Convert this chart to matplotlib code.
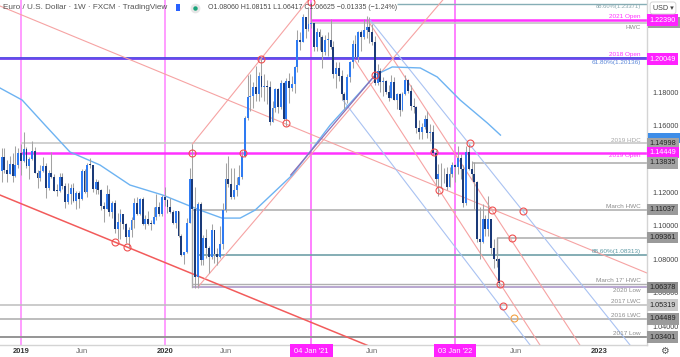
import matplotlib
matplotlib.use("Agg")
import matplotlib.pyplot as plt
import matplotlib.dates as mdates
import matplotlib.transforms as mtransforms
from matplotlib.lines import Line2D
from matplotlib.patches import Rectangle
import numpy as np
import pandas as pd

plt.rcParams['font.family'] = ['Liberation Sans', 'DejaVu Sans']

# Weekly EUR/USD bars, week of 2018-11-12 up to the week of 2022-04-25
first_open = 1.1335
last_open = 1.0806
closes = [
    1.1416, 1.1338, 1.1315, 1.1377, 1.1305, 1.1370, 1.1443, 1.1395,
    1.1468, 1.1365, 1.1406, 1.1456, 1.1324, 1.1295, 1.1334, 1.1365, 1.1234, 1.1325,
    1.1298, 1.1216, 1.1215, 1.1300, 1.1246, 1.1150, 1.1200, 1.1235, 1.1157, 1.1205,
    1.1169, 1.1333, 1.1210, 1.1371, 1.1370, 1.1225, 1.1270, 1.1220, 1.1127, 1.1108,
    1.1200, 1.1090, 1.1144, 1.0990, 1.1030, 1.1075, 1.1017, 1.0940, 1.0980, 1.1040,
    1.1143, 1.1080, 1.1165, 1.1018, 1.1050, 1.1020, 1.1017, 1.1060, 1.1120, 1.1080,
    1.1177, 1.1160,
    1.1120, 1.1090, 1.1025, 1.1093, 1.0945, 1.0830, 1.0848, 1.1025, 1.1285, 1.1105,
    1.0700, 1.1140, 1.0800, 1.0935, 1.0875, 1.0820, 1.0980, 1.0840, 1.0820, 1.0900,
    1.1100, 1.1290, 1.1255, 1.1177, 1.1220, 1.1250, 1.1300, 1.1427, 1.1655, 1.1780,
    1.1785, 1.1840, 1.1795, 1.1905, 1.1840, 1.1845, 1.1840, 1.1630, 1.1715, 1.1825,
    1.1717, 1.1860, 1.1645, 1.1875, 1.1835, 1.1857, 1.1960, 1.2120, 1.2110, 1.2255,
    1.2185, 1.2215,
    1.2220, 1.2080, 1.2170, 1.2135, 1.2045, 1.2120, 1.2120, 1.2075, 1.1915, 1.1950,
    1.1905, 1.1795, 1.1760, 1.1900, 1.1985, 1.2095, 1.2020, 1.2165, 1.2140, 1.2180,
    1.2195, 1.2165, 1.2105, 1.1860, 1.1935, 1.1865, 1.1875, 1.1810, 1.1770, 1.1870,
    1.1760, 1.1795, 1.1700, 1.1795, 1.1880, 1.1815, 1.1727, 1.1720, 1.1595, 1.1570,
    1.1600, 1.1645, 1.1560, 1.1568, 1.1445, 1.1290, 1.1320, 1.1315, 1.1315, 1.1240,
    1.1320, 1.1370,
    1.1360, 1.1415, 1.1345, 1.1145, 1.1450, 1.1348, 1.1320, 1.1270, 1.0930, 1.0910,
    1.1050, 1.0985, 1.1045, 1.0875, 1.0810, 1.0795, 1.0663,
]
highs = [
    1.1472, 1.1472, 1.1402, 1.1424, 1.1442, 1.1487, 1.1470, 1.1497,
    1.1570, 1.1480, 1.1420, 1.1514, 1.1480, 1.1342, 1.1370, 1.1420, 1.1380, 1.1340,
    1.1448, 1.1320, 1.1255, 1.1324, 1.1325, 1.1265, 1.1265, 1.1260, 1.1265, 1.1215,
    1.1215, 1.1348, 1.1348, 1.1380, 1.1412, 1.1370, 1.1285, 1.1283, 1.1226, 1.1150,
    1.1250, 1.1230, 1.1153, 1.1164, 1.1085, 1.1110, 1.1075, 1.1025, 1.0999, 1.1060,
    1.1172, 1.1180, 1.1175, 1.1180, 1.1070, 1.1097, 1.1040, 1.1117, 1.1200, 1.1150,
    1.1190, 1.1240,
    1.1165, 1.1173, 1.1100, 1.1097, 1.1095, 1.0955, 1.0850, 1.1053, 1.1355, 1.1496,
    1.1240, 1.1147, 1.1147, 1.0953, 1.0990, 1.0888, 1.1018, 1.0980, 1.0876, 1.1008,
    1.1145, 1.1384, 1.1422, 1.1350, 1.1350, 1.1300, 1.1372, 1.1452, 1.1664, 1.1909,
    1.1916, 1.1865, 1.1966, 1.1925, 1.2011, 1.1917, 1.1882, 1.1872, 1.1753, 1.1830,
    1.1830, 1.1880, 1.1870, 1.1890, 1.1920, 1.1905, 1.1965, 1.2178, 1.2165, 1.2273,
    1.2250, 1.2310,
    1.2349, 1.2223, 1.2190, 1.2185, 1.2150, 1.2150, 1.2170, 1.2243, 1.2115, 1.1990,
    1.1990, 1.1940, 1.1808, 1.1915, 1.1995, 1.2117, 1.2150, 1.2172, 1.2182, 1.2245,
    1.2266, 1.2255, 1.2218, 1.2144, 1.1975, 1.1950, 1.1895, 1.1880, 1.1850, 1.1909,
    1.1900, 1.1805, 1.1805, 1.1810, 1.1909, 1.1885, 1.1848, 1.1770, 1.1725, 1.1640,
    1.1624, 1.1668, 1.1692, 1.1616, 1.1610, 1.1463, 1.1374, 1.1383, 1.1355, 1.1360,
    1.1360, 1.1386,
    1.1376, 1.1483, 1.1435, 1.1370, 1.1484, 1.1495, 1.1395, 1.1390, 1.1275, 1.1120,
    1.1137, 1.1070, 1.1185, 1.1050, 1.0925, 1.0936, 1.0815,
]
lows = [
    1.1268, 1.1325, 1.1268, 1.1320, 1.1270, 1.1302, 1.1355, 1.1309,
    1.1390, 1.1353, 1.1290, 1.1400, 1.1322, 1.1234, 1.1276, 1.1330, 1.1176, 1.1220,
    1.1295, 1.1213, 1.1184, 1.1210, 1.1225, 1.1112, 1.1135, 1.1135, 1.1150, 1.1107,
    1.1116, 1.1160, 1.1205, 1.1181, 1.1352, 1.1207, 1.1195, 1.1200, 1.1102, 1.1027,
    1.1110, 1.1065, 1.1052, 1.0963, 1.0925, 1.0927, 1.0990, 1.0905, 1.0879, 1.0940,
    1.0995, 1.1072, 1.1073, 1.1014, 1.0990, 1.1014, 1.0981, 1.1017, 1.1040, 1.1065,
    1.1065, 1.1125,
    1.1085, 1.1085, 1.1020, 1.0992, 1.0940, 1.0828, 1.0778, 1.0845, 1.1045, 1.1052,
    1.0636, 1.0636, 1.0770, 1.0770, 1.0812, 1.0727, 1.0810, 1.0782, 1.0775, 1.0815,
    1.0870, 1.1090, 1.1240, 1.1167, 1.1170, 1.1186, 1.1256, 1.1289, 1.1420, 1.1640,
    1.1696, 1.1710, 1.1753, 1.1752, 1.1780, 1.1753, 1.1737, 1.1612, 1.1630, 1.1690,
    1.1685, 1.1705, 1.1640, 1.1603, 1.1745, 1.1815, 1.1800, 1.1925, 1.2060, 1.2105,
    1.2130, 1.2175,
    1.2193, 1.2055, 1.2055, 1.2060, 1.1952, 1.2028, 1.2023, 1.2068, 1.1893, 1.1835,
    1.1875, 1.1762, 1.1704, 1.1745, 1.1870, 1.1950, 1.2016, 1.1985, 1.2052, 1.2125,
    1.2130, 1.2104, 1.2092, 1.1847, 1.1848, 1.1807, 1.1782, 1.1795, 1.1752, 1.1770,
    1.1760, 1.1705, 1.1664, 1.1692, 1.1790, 1.1805, 1.1700, 1.1684, 1.1563, 1.1529,
    1.1524, 1.1586, 1.1535, 1.1513, 1.1433, 1.1250, 1.1186, 1.1235, 1.1262, 1.1222,
    1.1267, 1.1300,
    1.1272, 1.1315, 1.1290, 1.1121, 1.1130, 1.1340, 1.1280, 1.1106, 1.0910, 1.0806,
    1.0902, 1.0945, 1.0945, 1.0837, 1.0757, 1.0760, 1.0642,
]

# moving average (blue)
ma_dates = ['2018-11-08', '2019-01-03', '2019-03-02', '2019-05-04', '2019-07-19',
            '2019-10-03', '2019-12-25', '2020-03-28', '2020-05-23', '2020-07-08',
            '2020-08-15', '2020-11-17', '2021-02-21', '2021-05-08', '2021-06-15',
            '2021-07-28', '2021-10-07', '2021-11-19', '2022-01-16', '2022-03-26',
            '2022-04-28']
ma_values = [1.1832, 1.1760, 1.1610, 1.1449, 1.1371, 1.1251, 1.1191, 1.1101, 1.1053,
             1.1053, 1.1101, 1.1311, 1.1610, 1.1808, 1.1910, 1.1958, 1.1952, 1.1898,
             1.1760, 1.1622, 1.1550]
ma2_dates = ['2020-11-13', '2021-06-15']
ma2_values = [1.1311, 1.1910]

# trendlines: (start date, start price, end date, end price)
channel_low = ('2018-11-08', 1.1191, '2021-06-01', 1.0285)
slope_high = ('2018-11-08', 1.2323, '2023-05-04', 1.0724)
rise_a = ('2020-03-09', 1.1496, '2021-01-15', 1.2413)
rise_b = ('2020-03-23', 1.0640, '2021-12-03', 1.2359)
fork_blue_upper = ('2021-06-02', 1.2239, '2023-03-22', 1.0293)
fork_pink_upper = ('2021-05-30', 1.2227, '2022-11-15', 1.0293)
fork_pink_lower = ('2021-04-24', 1.2000, '2022-08-06', 1.0293)
fork_blue_lower = ('2021-03-25', 1.1760, '2022-07-12', 1.0293)

circle_dates = ['2019-08-26', '2019-09-25', '2020-03-09', '2020-07-15', '2020-08-31',
                '2020-11-02', '2021-01-04', '2021-06-14', '2021-11-11', '2021-11-24',
                '2022-02-10', '2022-04-06', '2022-06-24', '2022-05-27', '2022-04-28',
                '2022-05-04']
circle_prices = [1.0910, 1.0880, 1.1445, 1.1445, 1.2005, 1.1622, 1.2347, 1.1910,
                 1.1449, 1.1221, 1.1503, 1.1101, 1.1095, 1.0934, 1.0658, 1.0526]
orange_circle = ('2022-06-01', 1.0454)

year_opens = ['2018-12-31', '2019-12-30', '2021-01-04', '2022-01-03']

# horizontal levels: (start date, price)
lvl_fib886_top = ('2021-08-10', 1.23371)
lvl_2021_open = ('2021-01-04', 1.22390)
lvl_hwc = ('2021-01-04', 1.22210)
lvl_2018_open = ('2018-11-08', 1.20049)
lvl_fib618 = ('2018-11-08', 1.20136)
lvl_2019_hdc = ('2018-12-31', 1.14998)
lvl_2019_open = ('2018-12-29', 1.14449)
lvl_113835 = ('2022-02-15', 1.13835)
lvl_march_hwc = ('2020-03-09', 1.11037)
lvl_109361 = ('2022-04-19', 1.09361)
lvl_fib886 = ('2020-03-20', 1.08313)
lvl_mar17_hwc = ('2020-03-09', 1.06600)
lvl_2020_low = ('2020-03-09', 1.06378)
lvl_2017_lwc = ('2018-11-08', 1.05319)
lvl_2016_lwc = ('2018-11-08', 1.04489)
lvl_2017_low = ('2018-11-08', 1.03401)

UP = '#2f7bf2'
DOWN = '#1b3a78'
WICK = '#a3a3a3'
MAG = '#ff33ff'
GRID_GRAY = '#ababab'
PINK = '#f6a3a3'
LBLUE = '#a9c2f2'

fig = plt.figure(figsize=(6.8, 3.57), dpi=100)
fig.patch.set_facecolor('white')
ax = fig.add_axes([0, 12 / 357, 647 / 680, 345 / 357])

x0 = mdates.date2num(pd.Timestamp('2018-11-08'))
x1 = mdates.date2num(pd.Timestamp('2023-05-04'))
ax.set_xlim(x0, x1)
ax.set_ylim(1.0293, 1.2359)
ax.set_xticks([])
ax.set_yticks([])
for s in ['top', 'left']:
    ax.spines[s].set_visible(False)
for s in ['right', 'bottom']:
    ax.spines[s].set_color('#d4d4d4')
    ax.spines[s].set_linewidth(1.0)

d = lambda s: mdates.date2num(pd.Timestamp(s))

# vertical year-open lines
for i, yd in enumerate(year_opens):
    ax.axvline(d(yd), color='#ff8cff' if i < 2 else '#ff6bff', lw=1.2, zorder=1)

# horizontal levels
def hline(level, color, lw=1.1, z=2):
    ax.plot([d(level[0]), x1], [level[1], level[1]], color=color, lw=lw, zorder=z,
            solid_capstyle='butt')

hline(lvl_fib886_top, '#86aeb6', 1.0)
hline(lvl_hwc, '#c4c4c4', 1.2)
hline(lvl_2021_open, MAG, 1.8)
hline(lvl_fib618, '#4646e0', 1.3)
hline(lvl_2018_open, '#6f45ee', 1.3)
hline(lvl_2019_hdc, '#c8c8c8', 1.2)
hline(lvl_2019_open, MAG, 1.8)
hline(lvl_113835, GRID_GRAY, 1.1)
hline(lvl_march_hwc, GRID_GRAY, 1.1)
hline(lvl_109361, GRID_GRAY, 1.1)
ax.plot([d(lvl_109361[0])] * 2, [lvl_109361[1], 1.0840], color=GRID_GRAY, lw=1.0, zorder=2)
hline(lvl_fib886, '#6fa0a8', 1.2)
hline(lvl_mar17_hwc, '#b0b0b0', 1.0)
hline(lvl_2020_low, '#a58fc4', 1.1)
ax.plot([d(lvl_march_hwc[0])] * 2, [lvl_2020_low[1], lvl_march_hwc[1]], color=GRID_GRAY,
        lw=1.0, zorder=2)
hline(lvl_2017_lwc, '#bdbdbd', 1.1)
hline(lvl_2016_lwc, GRID_GRAY, 1.1)
hline(lvl_2017_low, '#959595', 1.4)

# trendlines
def tline(t, color, lw=0.8):
    ax.plot([d(t[0]), d(t[2])], [t[1], t[3]], color=color, lw=lw, zorder=2.5)

tline(channel_low, '#f25b5b', 1.1)
tline(slope_high, PINK)
tline(rise_a, PINK)
tline(rise_b, PINK)
tline(fork_blue_upper, LBLUE)
tline(fork_pink_upper, PINK)
tline(fork_pink_lower, PINK)
tline(fork_blue_lower, LBLUE)

# moving averages
ax.plot([d(s) for s in ma_dates], ma_values, color='#6db3f2', lw=1.0, zorder=2.6)
ax.plot([d(s) for s in ma2_dates], ma2_values, color='#8b6fb5', lw=0.9, zorder=2.6)

# candles
dates = pd.date_range('2018-11-12', periods=len(closes), freq='W-MON')
xs = mdates.date2num(dates)
c = np.array(closes)
o = np.r_[first_open, c[:-1]]
o[-1] = last_open
h = np.maximum(np.array(highs), np.maximum(o, c))
l = np.minimum(np.array(lows), np.minimum(o, c))
up = c >= o
ax.vlines(xs, l, h, color=WICK, lw=0.75, zorder=3)
body = np.maximum(np.abs(c - o), 0.0004)
ax.bar(xs, body, bottom=np.minimum(o, c), width=4.8, color=np.where(up, UP, DOWN),
       linewidth=0, zorder=4)

# circles
ax.plot([d(s) for s in circle_dates], circle_prices, 'o', ms=5, mfc='none',
        mec='#ef5050', mew=0.8, zorder=6)
ax.plot([d(orange_circle[0])], [orange_circle[1]], 'o', ms=5, mfc='none',
        mec='#f5a043', mew=0.8, zorder=6)

# level labels on the chart
lx = d('2023-04-18')
def lbl(txt, p, va, color, size=4.6):
    ax.text(lx, p, txt, ha='right', va=va, fontsize=size, color=color, zorder=7)

lbl('88.60%(1.23371)', 1.2335, 'top', '#8aa8ae', size=4.2)
lbl('2021 Open', 1.2243, 'bottom', MAG)
lbl('HWC', 1.2212, 'top', '#8c8c8c')
lbl('2018 Open', 1.2018, 'bottom', MAG)
lbl('61.80%(1.20136)', 1.1998, 'top', '#5a86d8')
lbl('2019 HDC', 1.1504, 'bottom', '#a6a6a6')
lbl('2019 Open', 1.1440, 'top', MAG)
lbl('March HWC', 1.1108, 'bottom', '#8c8c8c')
lbl('88.60%(1.08313)', 1.0835, 'bottom', '#5b98a3')
lbl("March 17' HWC", 1.0664, 'bottom', '#8c8c8c')
lbl('2020 Low', 1.0633, 'top', '#8c8c8c')
lbl('2017 LWC', 1.0536, 'bottom', '#8c8c8c')
lbl('2016 LWC', 1.0453, 'bottom', '#8c8c8c')
lbl('2017 Low', 1.0344, 'bottom', '#8c8c8c')

# right price scale
ytr = mtransforms.blended_transform_factory(ax.transAxes, ax.transData)
price_ticks = [1.18, 1.16, 1.12, 1.10, 1.08, 1.06, 1.04]
for p in price_ticks:
    ax.text(1.008, p, f'{p:.5f}', transform=ytr, fontsize=5.2, color='#444444',
            va='center', ha='left', clip_on=False, zorder=8)

# labels hidden behind others: just the visible sliver of their box
for p, fc in [(1.2225, '#9c9c9c'), (1.1532, '#3d8de8')]:
    ax.add_patch(Rectangle((1.0015, p - 0.0032), 33 / 647, 0.0064, transform=ytr,
                           fc=fc, ec='none', clip_on=False, zorder=8.5))

def pbox(p, txt, fc, tc='white', z=9):
    ax.text(1.004, p, txt, transform=ytr, fontsize=5.2, color=tc, va='center',
            ha='left', clip_on=False, zorder=z,
            bbox=dict(boxstyle='square,pad=0.32', fc=fc, ec='none'))

pbox(1.2239, '1.22390', '#ff22ff')
pbox(1.20049, '1.20049', '#ff22ff')
pbox(1.14998, '1.14998', '#a3a3a3', '#222222')
pbox(1.14449, '1.14449', '#ff22ff')
pbox(1.13835, '1.13835', '#a3a3a3', '#222222')
pbox(1.11037, '1.11037', '#9a9a9a', '#222222')
pbox(1.09361, '1.09361', '#9a9a9a', '#222222')
pbox(1.06378, '1.06378', '#8f8f8f', '#222222')
pbox(1.05319, '1.05319', '#c9c9c9', '#222222')
pbox(1.04489, '1.04489', '#9a9a9a', '#222222')
pbox(1.03401, '1.03401', '#9a9a9a', '#222222')

# time scale
xtr = mtransforms.blended_transform_factory(ax.transData, ax.transAxes)
yl = -6.5 / 345
for s, t, bold in [('2018-12-31', '2019', True), ('2019-06-03', 'Jun', False),
                   ('2019-12-30', '2020', True), ('2020-06-01', 'Jun', False),
                   ('2021-06-07', 'Jun', False), ('2022-06-06', 'Jun', False),
                   ('2023-01-02', '2023', True)]:
    ax.text(d(s), yl, t, transform=xtr, ha='center', va='center', fontsize=5.4,
            color='#333333' if bold else '#666666',
            fontweight='bold' if bold else 'normal', clip_on=False)
for s, t in [('2021-01-04', "04 Jan '21"), ('2022-01-03', "03 Jan '22")]:
    ax.text(d(s), yl, t, transform=xtr, ha='center', va='center', fontsize=5.4,
            color='white', clip_on=False, zorder=9,
            bbox=dict(boxstyle='square,pad=0.55', fc='#ff22ff', ec='none'))

# header
fig.text(3 / 680, 1 - 7.5 / 357, 'Euro / U.S. Dollar · 1W · FXCM · TradingView',
         fontsize=5.9, color='#555555', va='center', ha='left')
fig.add_artist(Rectangle((176 / 680, 1 - 11 / 357), 4 / 680, 7 / 357, fc='#2962ff',
                         ec='none', transform=fig.transFigure))
fig.add_artist(Line2D([195 / 680], [1 - 7.5 / 357], marker='o', ms=7, mfc='#e6e6e6',
                      mec='none', transform=fig.transFigure))
fig.add_artist(Line2D([195 / 680], [1 - 7.5 / 357], marker='o', ms=3.2, mfc='#1aa37a',
                      mec='none', transform=fig.transFigure))
fig.text(208 / 680, 1 - 7.5 / 357,
         'O1.08060 H1.08151 L1.06417 C1.06625 \u22120.01335 (\u22121.24%)',
         fontsize=5.0, color='#4a4a4a', va='center', ha='left')
fig.text(663 / 680, 1 - 8 / 357, 'USD \u25be', fontsize=5.2, color='#444444',
         ha='center', va='center',
         bbox=dict(boxstyle='round,pad=0.35', fc='white', ec='#cfcfcf', lw=0.6))
fig.text(664 / 680, 6 / 357, '\u2699', fontsize=7, color='#555555', ha='center',
         va='center', family='DejaVu Sans')

fig.savefig('out.png', dpi=100, facecolor='white')
